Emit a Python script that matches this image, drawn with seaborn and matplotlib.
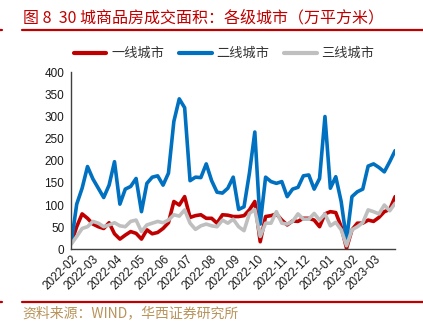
import matplotlib
matplotlib.use("Agg")
import matplotlib.pyplot as plt
import matplotlib.dates as mdates
from matplotlib.lines import Line2D
import pandas as pd
import seaborn as sns

# Weekly transaction area of commercial housing in 30 cities (10k m²)
series_names = ["一线城市", "二线城市", "三线城市"]
tier1 = [15, 51, 80, 70, 57, 51, 47, 60, 35, 23, 32, 40, 36, 23, 44, 35, 38, 47, 60, 108,
         100, 119, 72, 76, 78, 70, 70, 59, 78, 77, 74, 74, 76, 89, 108, 17, 74, 76, 80, 66,
         55, 64, 63, 70, 70, 66, 51, 80, 85, 83, 51, 2, 44, 59, 59, 66, 63, 72, 85, 90, 119]
tier2 = [15, 102, 138, 187, 159, 138, 117, 145, 198, 102, 136, 142, 160, 85, 149, 163, 166, 145, 172, 289,
         340, 320, 155, 163, 162, 193, 155, 129, 127, 138, 163, 90, 96, 172, 265, 57, 163, 153, 149, 153,
         119, 136, 140, 166, 168, 136, 160, 300, 138, 164, 108, 21, 119, 130, 136, 188, 193, 185, 175, 198, 223]
tier3 = [12, 29, 47, 51, 63, 59, 51, 55, 60, 53, 51, 63, 66, 40, 55, 59, 63, 60, 66, 78,
         75, 89, 59, 45, 53, 57, 53, 51, 66, 59, 68, 51, 42, 81, 90, 29, 59, 59, 85, 59,
         57, 63, 80, 68, 68, 81, 66, 80, 53, 61, 44, 8, 44, 51, 60, 89, 85, 80, 100, 87, 104]
weeks = pd.date_range("2022-02-06", periods=len(tier2), freq="7D")
month_ticks = pd.date_range("2022-02-06", periods=14, freq=pd.DateOffset(months=1))
y_ticks = [0, 50, 100, 150, 200, 250, 300, 350, 400]

colors = ["#C00000", "#0070C0", "#BFBFBF"]

df = pd.DataFrame({
    "date": list(weeks) * 3,
    "value": tier1 + tier2 + tier3,
    "tier": [series_names[0]] * len(tier1) + [series_names[1]] * len(tier2) + [series_names[2]] * len(tier3),
})

sns.set_theme(style="white")
plt.rcParams["font.family"] = ["Liberation Sans", "Noto Sans CJK SC", "DejaVu Sans"]
cjk = ["Noto Sans CJK SC", "DejaVu Sans"]

fig = plt.figure(figsize=(4.23, 3.25), dpi=100)
ax = fig.add_axes([0.1686, 0.233, 0.7655, 0.5445])

sns.lineplot(data=df, x="date", y="value", hue="tier", hue_order=series_names,
             palette=colors, linewidth=2.6, ax=ax, legend=False)

ax.set_xlim(weeks[0], weeks[-1])
ax.set_ylim(0, 400)
ax.set_yticks(y_ticks)
ax.set_xticks(month_ticks)
ax.xaxis.set_major_formatter(mdates.DateFormatter("%Y-%m"))
ax.set_xlabel("")
ax.set_ylabel("")

for side in ["top", "right"]:
    ax.spines[side].set_visible(False)
for side in ["left", "bottom"]:
    ax.spines[side].set_color("#404040")
    ax.spines[side].set_linewidth(1.0)

ax.tick_params(axis="both", direction="in", length=3, width=0.9, color="#404040",
               labelsize=8.5, labelcolor="#1a1a1a", pad=3)
ax.tick_params(axis="y", pad=5)
for lbl in ax.get_xticklabels():
    lbl.set_rotation(45)
    lbl.set_ha("right")
    lbl.set_rotation_mode("anchor")

# Legend row above the plot
handles = [Line2D([0], [0], color=c, linewidth=3) for c in colors]
leg = fig.legend(handles, series_names, loc="center", bbox_to_anchor=(0.530, 0.835),
                 ncol=3, frameon=False, handlelength=2.45, handletextpad=0.35,
                 columnspacing=1.15, prop={"family": cjk, "size": 9.5, "weight": "light"})
for t in leg.get_texts():
    t.set_color("#333333")

# Title and rules
fig.text(0.054, 0.944, "图 8  30 城商品房成交面积：各级城市（万平方米）", color="#C00000",
         fontsize=11.5, family=cjk, fontweight="light", va="center", ha="left")
fig.add_artist(Line2D([0.052, 1.0], [0.908, 0.908], color="#C00000", linewidth=1.6))
fig.add_artist(Line2D([0.0, 0.005], [0.908, 0.908], color="#C00000", linewidth=1.6))
fig.add_artist(Line2D([0.052, 1.0], [0.072, 0.072], color="#C00000", linewidth=1.6))
fig.add_artist(Line2D([0.0, 0.005], [0.072, 0.072], color="#C00000", linewidth=1.6))

# Source note
fig.text(0.054, 0.037, "资料来源：WIND，华西证券研究所", color="#B8935A",
         fontsize=10, family=cjk, fontweight="light", va="center", ha="left")

fig.savefig("out.png", dpi=100)
